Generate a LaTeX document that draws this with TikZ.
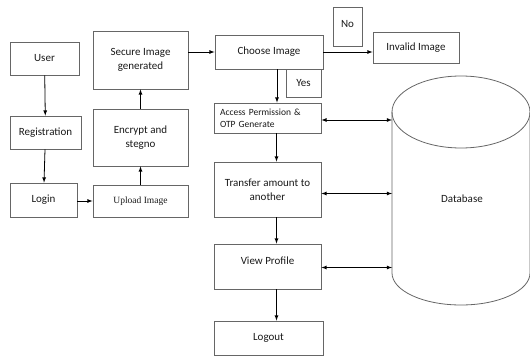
\documentclass[tikz,border=0pt]{standalone}
\usepackage{fontspec}
\setmainfont{Carlito}
\newfontfamily\timesfont{Liberation Serif}

\tikzset{
  box/.style={draw=black!60,line width=0.8pt,text=black!90,align=center,inner sep=3pt},
  flow/.style={draw,line width=0.8pt,-latex},
  both/.style={draw,line width=0.8pt,latex-latex}
}

\begin{document}
\begin{tikzpicture}[x=1pt,y=-1pt,font=\fontsize{11}{14}\selectfont]
  \useasboundingbox (0,0) rectangle (530,358);
  \begin{scope}
    \node[box,minimum width=69,minimum height=33] (user) at (44.5,58.5) {User};
    \node[box,minimum width=71,minimum height=33] (reg) at (45.5,132.5) {Registration};
    \node[box,minimum width=67,minimum height=34] (login) at (43.5,200) {Login};

    \path[flow] (user) -- (reg);
    \path[flow] (reg) -- (login);

    \node[box,minimum width=95,minimum height=32,font=\timesfont\fontsize{9.5}{12}\selectfont] (upload) at (140.5,201) {Upload Image};
    \node[box,minimum width=95,minimum height=57] (encrypt) at (140.5,137.5) {Encrypt and\\stegno};
    \node[box,minimum width=95,minimum height=58] (secure) at (140.5,60) {Secure Image\\generated};

    \path[flow] (login.east |- upload.west) -- (upload.west);
    \path[flow] (upload) -- (encrypt);
    \path[flow] (encrypt) -- (secure);

    \node[box,minimum width=108,minimum height=34] (choose) at (269,52) {Choose Image};
    \node[box,minimum width=29,minimum height=39,text depth=6pt] (no) at (347.5,26.5) {No};
    \node[box,minimum width=86,minimum height=31] (invalid) at (416,47.5) {Invalid Image};
    \node[box,minimum width=35,minimum height=28] (yes) at (303.5,83) {Yes};

    \path[flow] (choose.west -| secure.east) -- (choose.west);
    \path[flow] (choose.east) -- (choose.east -| invalid.west);

    \node[box,text width=95,inner xsep=6pt,minimum height=30,align=left,font=\fontsize{9.5}{12}\selectfont] (access) at (267.5,118) {Access Permission \&\\OTP Generate};
    \node[box,minimum width=107,minimum height=55] (transfer) at (267.5,189.5) {Transfer amount to\\another};
    \node[box,minimum width=107,minimum height=45,text depth=12pt] (view) at (267.5,266.5) {View Profile};
    \node[box,minimum width=109,minimum height=34] (logout) at (268.5,338) {Logout};

    \path[flow] ([xshift=8]choose.south) -- ([xshift=8]choose.south |- access.north);
    \path[flow] ([xshift=9]access.south) -- ([xshift=9]access.south |- transfer.north);
    \path[flow] ([xshift=9]transfer.south) -- ([xshift=9]transfer.south |- view.north);
    \path[flow] ([xshift=9]view.south) -- ([xshift=9]view.south |- logout.north);

    % database
    \draw[black!60,line width=0.8pt] (461,112) ellipse [x radius=69,y radius=36];
    \draw[black!60,line width=0.8pt] (392,112) -- (392,273)
      arc[start angle=180,end angle=0,x radius=69,y radius=32] -- (530,112);
    \coordinate (dbside) at (392,190);
    \node[text=black!90] (db) at (462,199) {Database};

    \path[both] ([yshift=-2]access.east) -- ([yshift=-2]access.east -| dbside);
    \path[both] ([yshift=-4]transfer.east) -- ([yshift=-4]transfer.east -| dbside);
    \path[both] ([yshift=-1]view.east) -- ([yshift=-1]view.east -| dbside);
  \end{scope}
\end{tikzpicture}
\end{document}
